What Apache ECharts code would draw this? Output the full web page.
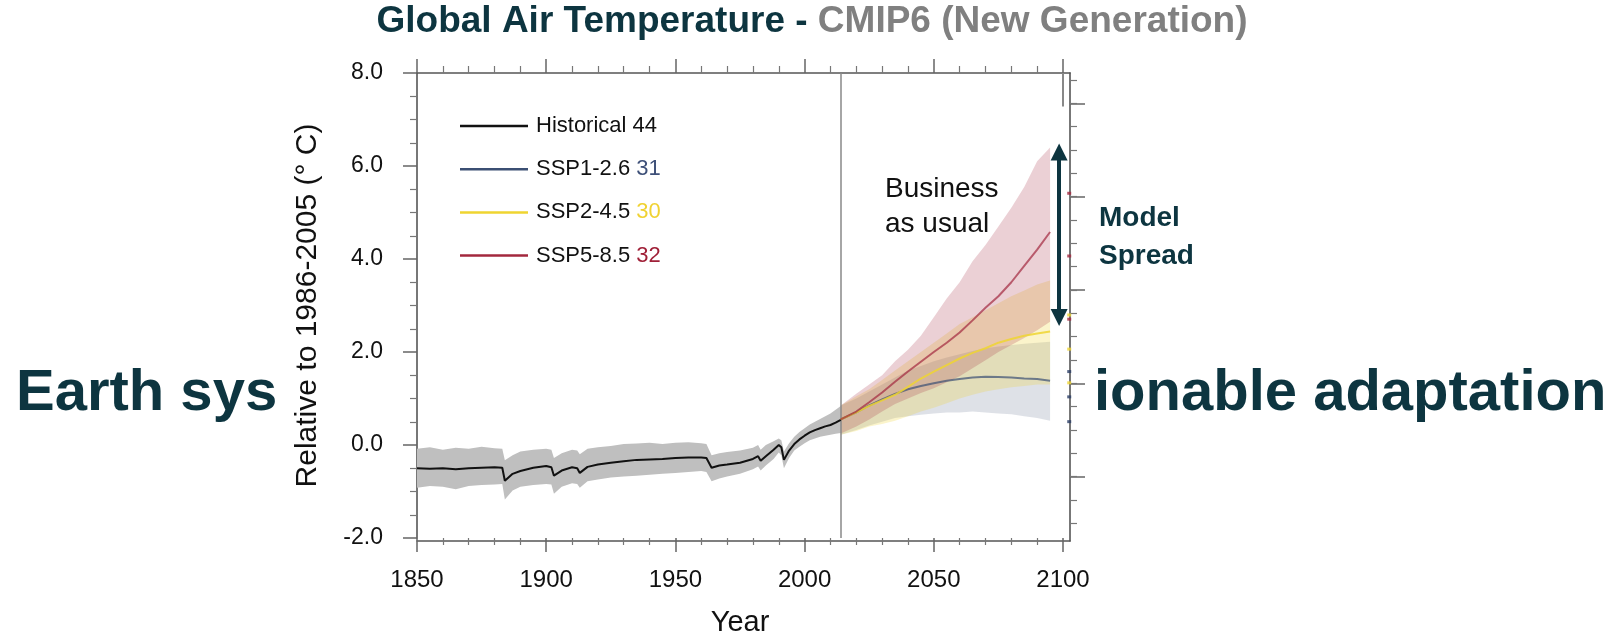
<!DOCTYPE html>
<html><head><meta charset="utf-8">
<script src="https://cdn.jsdelivr.net/npm/echarts@6/dist/echarts.min.js"></script>
<style>html,body{margin:0;padding:0;background:#fff}#c{width:1618px;height:642px}</style>
</head><body><div id="c"></div>
<script>
const FONT = "'Liberation Sans', Arial, Helvetica, sans-serif";
const TEAL = '#0d3540';

// ---------- data ----------
const histYears = [1850,1855,1860,1865,1870,1875,1880,1883,1884,1887,1890,1895,1900,1902,1903,1906,1910,1912,1913,1916,1920,1925,1930,1935,1940,1945,1950,1955,1960,1962,1964,1967,1970,1975,1980,1982,1983,1985,1988,1990,1991,1992,1994,1996,1998,2000,2002,2004,2006,2008,2010,2012,2014];
const histMean  = [-0.50,-0.51,-0.50,-0.52,-0.50,-0.49,-0.48,-0.49,-0.77,-0.62,-0.56,-0.49,-0.45,-0.48,-0.66,-0.55,-0.48,-0.50,-0.60,-0.47,-0.42,-0.38,-0.35,-0.32,-0.31,-0.30,-0.28,-0.27,-0.27,-0.28,-0.49,-0.44,-0.42,-0.38,-0.30,-0.24,-0.34,-0.24,-0.10,0.00,-0.05,-0.32,-0.12,0.02,0.12,0.20,0.27,0.32,0.36,0.40,0.43,0.48,0.54];
const histUpper = [-0.08,-0.05,-0.10,-0.06,-0.08,-0.04,-0.07,-0.08,-0.33,-0.22,-0.14,-0.10,-0.08,-0.10,-0.28,-0.18,-0.10,-0.12,-0.20,-0.08,-0.05,-0.02,0.02,0.03,0.05,0.02,0.05,0.06,0.04,0.02,-0.22,-0.18,-0.15,-0.12,-0.06,0.00,-0.10,0.00,0.08,0.14,0.10,-0.14,0.04,0.18,0.28,0.36,0.44,0.50,0.56,0.62,0.68,0.76,0.84];
const histLower = [-0.92,-0.88,-0.90,-0.95,-0.88,-0.86,-0.85,-0.84,-1.17,-0.98,-0.90,-0.86,-0.84,-0.85,-1.05,-0.90,-0.82,-0.84,-0.92,-0.78,-0.74,-0.70,-0.68,-0.66,-0.64,-0.62,-0.60,-0.58,-0.56,-0.58,-0.78,-0.72,-0.68,-0.62,-0.52,-0.46,-0.55,-0.44,-0.30,-0.16,-0.22,-0.50,-0.28,-0.12,-0.04,0.04,0.10,0.14,0.18,0.20,0.22,0.24,0.26];

const projYears   = [2014,2020,2025,2030,2035,2040,2045,2050,2055,2060,2065,2070,2075,2080,2085,2090,2095];
const ssp126Mean  = [0.55,0.70,0.85,0.98,1.10,1.20,1.27,1.33,1.38,1.42,1.45,1.47,1.46,1.45,1.43,1.42,1.38];
const ssp126Upper = [0.85,1.00,1.15,1.30,1.45,1.60,1.70,1.80,1.88,1.95,2.02,2.08,2.12,2.15,2.18,2.20,2.22];
const ssp126Lower = [0.22,0.32,0.42,0.50,0.58,0.62,0.65,0.68,0.70,0.70,0.72,0.70,0.68,0.66,0.62,0.58,0.52];
const ssp245Mean  = [0.55,0.70,0.84,0.96,1.08,1.25,1.43,1.58,1.72,1.86,1.98,2.08,2.20,2.28,2.35,2.40,2.44];
const ssp245Upper = [0.85,1.05,1.20,1.40,1.60,1.80,2.00,2.20,2.40,2.60,2.75,2.90,3.05,3.20,3.32,3.45,3.54];
const ssp245Lower = [0.22,0.30,0.40,0.45,0.52,0.62,0.72,0.80,0.90,1.00,1.08,1.15,1.20,1.24,1.27,1.30,1.30];
const ssp585Mean  = [0.55,0.72,0.92,1.13,1.36,1.58,1.79,2.00,2.20,2.42,2.68,2.95,3.20,3.50,3.85,4.20,4.58];
const ssp585Upper = [0.85,1.10,1.30,1.50,1.80,2.05,2.35,2.75,3.15,3.50,3.95,4.30,4.70,5.10,5.55,6.10,6.40];
const ssp585Lower = [0.25,0.40,0.55,0.72,0.88,1.00,1.12,1.22,1.35,1.48,1.65,1.82,2.00,2.15,2.30,2.47,2.65];

const legendNames  = ['Historical','SSP1-2.6','SSP2-4.5','SSP5-8.5'];
const legendCounts = [44, 31, 30, 32];

const xTickLabels = ['1850','1900','1950','2000','2050','2100'];
const yTickLabels = ['-2.0','0.0','2.0','4.0','6.0','8.0'];

const projStartYear = 2014;
const spreadYear = 2098.5, spreadTop = 6.3, spreadBottom = 2.74;
const edgeMarkYear = 2102.5;
const edgeRed    = [5.43, 4.09, 2.74];
const edgeYellow = [2.83, 2.10, 1.38];
const edgeBlue   = [1.62, 1.08, 0.55];

// ---------- helpers ----------
const zip = (xs, ys) => xs.map((x, i) => [x, ys[i]]);

const COLORS = { hist: '#111111', s126: '#3b4f73', s245: '#efd531', s585: '#a3283e' };

function band(name, years, lo, hi, color, opacity) {
  const rows = years.map((y, i) => [y, lo[i], hi[i]]);
  return {
    name: name + '-band', type: 'custom', xAxisIndex: 0, yAxisIndex: 0, silent: true, clip: true, z: 1,
    data: rows, encode: { x: 0, y: [1, 2] },
    renderItem: (params, api) => {
      if (params.dataIndex !== 0) return null;
      const pts = [];
      for (let i = 0; i < rows.length; i++) pts.push(api.coord([rows[i][0], rows[i][2]]));
      for (let i = rows.length - 1; i >= 0; i--) pts.push(api.coord([rows[i][0], rows[i][1]]));
      return { type: 'polygon', shape: { points: pts }, style: { fill: color, opacity: opacity } };
    }
  };
}

const tickStyleMajor = { show: true, inside: false, length: 14, lineStyle: { color: '#666', width: 1.5 } };
const tickStyleMinor = { show: true, length: 7, lineStyle: { color: '#777', width: 1.2 } };

const chart = echarts.init(document.getElementById('c'), null, { renderer: 'canvas' });

const option = {
  animation: false,
  backgroundColor: '#ffffff',
  textStyle: { fontFamily: FONT },
  grid: [
    { left: 417, top: 73, width: 646, height: 468 },
    { left: 417, top: 73, width: 653, height: 468 },
    { left: 417, top: 103.3, width: 653, height: 373.4 },
    { left: 417, top: 80, width: 653, height: 443.3 }
  ],
  xAxis: [
    { gridIndex: 0, type: 'value', min: 1850, max: 2100, interval: 50, position: 'bottom',
      axisLine: { show: false, onZero: false },
      axisTick: tickStyleMajor, minorTick: Object.assign({ splitNumber: 5 }, tickStyleMinor),
      splitLine: { show: false }, minorSplitLine: { show: false },
      axisLabel: { margin: 30, fontSize: 24, color: '#111', fontFamily: FONT,
        formatter: v => xTickLabels[Math.round((v - 1850) / 50)] || '' },
      name: 'Year', nameLocation: 'middle', nameGap: 70,
      nameTextStyle: { fontSize: 29, color: '#111', fontFamily: FONT } },
    { gridIndex: 0, type: 'value', min: 1850, max: 2100, interval: 50, position: 'top',
      axisLine: { show: false, onZero: false },
      axisTick: tickStyleMajor, minorTick: Object.assign({ splitNumber: 5 }, tickStyleMinor),
      splitLine: { show: false }, axisLabel: { show: false } },
    { gridIndex: 1, type: 'value', min: 1850, max: 2102.8, position: 'bottom',
      axisLine: { show: true, onZero: false, lineStyle: { color: '#555', width: 1.6 } },
      axisTick: { show: false }, axisLabel: { show: false }, splitLine: { show: false } },
    { gridIndex: 1, type: 'value', min: 1850, max: 2102.8, position: 'top',
      axisLine: { show: true, onZero: false, lineStyle: { color: '#555', width: 1.6 } },
      axisTick: { show: false }, axisLabel: { show: false }, splitLine: { show: false } },
    { gridIndex: 2, type: 'value', show: false, min: 0, max: 1 },
    { gridIndex: 3, type: 'value', show: false, min: 0, max: 1 }
  ],
  yAxis: [
    { gridIndex: 0, type: 'value', min: -2, max: 8, interval: 2, position: 'left',
      axisLine: { show: true, onZero: false, lineStyle: { color: '#555', width: 1.6 } },
      axisTick: tickStyleMajor, minorTick: Object.assign({ splitNumber: 4 }, tickStyleMinor),
      splitLine: { show: false }, minorSplitLine: { show: false },
      axisLabel: { margin: 34, fontSize: 23, color: '#111', fontFamily: FONT,
        formatter: v => yTickLabels[Math.round((v + 2) / 2)] || '' },
      name: 'Relative to 1986-2005 (° C)', nameLocation: 'middle', nameRotate: 90, nameGap: 94,
      nameTextStyle: { fontSize: 30, color: '#111', fontFamily: FONT } },
    { gridIndex: 1, type: 'value', min: -2, max: 8, position: 'right',
      axisLine: { show: true, onZero: false, lineStyle: { color: '#555', width: 1.6 } },
      axisTick: { show: false }, axisLabel: { show: false }, splitLine: { show: false } },
    { gridIndex: 2, type: 'value', min: 0, max: 8, interval: 2, position: 'right',
      axisLine: { show: false, onZero: false },
      axisTick: { show: true, inside: false, length: 15, lineStyle: { color: '#666', width: 1.5 } },
      axisLabel: { show: false }, splitLine: { show: false } },
    { gridIndex: 3, type: 'value', min: 0, max: 19, interval: 1, position: 'right',
      axisLine: { show: false, onZero: false },
      axisTick: { show: true, inside: false, length: 7, lineStyle: { color: '#777', width: 1.2 } },
      axisLabel: { show: false }, splitLine: { show: false } }
  ],
  legend: {
    data: legendNames, orient: 'vertical', left: 455, top: 110,
    icon: 'rect', itemWidth: 68, itemHeight: 2.5, itemGap: 21.2, selectedMode: false,
    formatter: name => {
      const i = legendNames.indexOf(name);
      return name + ' {k' + i + '|' + legendCounts[i] + '}';
    },
    textStyle: {
      fontSize: 22, lineHeight: 22, color: '#111', fontFamily: FONT, padding: [0, 0, 0, 3],
      rich: {
        k0: { color: '#111', fontSize: 22, fontFamily: FONT },
        k1: { color: '#3e5078', fontSize: 22, fontFamily: FONT },
        k2: { color: '#f0d232', fontSize: 22, fontFamily: FONT },
        k3: { color: '#a02038', fontSize: 22, fontFamily: FONT }
      }
    }
  },
  series: [
    band('hist', histYears, histLower, histUpper, '#bfbfbf', 1),
    band('s126', projYears, ssp126Lower, ssp126Upper, COLORS.s126, 0.17),
    band('s245', projYears, ssp245Lower, ssp245Upper, COLORS.s245, 0.25),
    band('s585', projYears, ssp585Lower, ssp585Upper, COLORS.s585, 0.22),
    { name: 'Historical', type: 'line', xAxisIndex: 0, yAxisIndex: 0, data: zip(histYears, histMean),
      color: COLORS.hist, symbol: 'none', lineStyle: { width: 2, color: COLORS.hist }, z: 5,
      markLine: { silent: true, symbol: ['none', 'none'], label: { show: false },
        lineStyle: { color: '#888', width: 1.5, type: 'solid' }, data: [{ xAxis: projStartYear }] } },
    { name: 'SSP1-2.6', type: 'line', xAxisIndex: 0, yAxisIndex: 0, data: zip(projYears, ssp126Mean),
      color: COLORS.s126, symbol: 'none', lineStyle: { width: 2, color: COLORS.s126, opacity: 0.7 }, z: 5,
      markLine: { silent: true, symbol: ['none', 'none'], label: { show: false },
        lineStyle: { color: '#888', width: 2, type: 'solid' },
        data: [[{ coord: [2100, 8] }, { coord: [2100, 7.28] }]] } },
    { name: 'SSP2-4.5', type: 'line', xAxisIndex: 0, yAxisIndex: 0, data: zip(projYears, ssp245Mean),
      color: COLORS.s245, symbol: 'none', lineStyle: { width: 2, color: COLORS.s245, opacity: 0.85 }, z: 5 },
    { name: 'SSP5-8.5', type: 'line', xAxisIndex: 0, yAxisIndex: 0, data: zip(projYears, ssp585Mean),
      color: COLORS.s585, symbol: 'none', lineStyle: { width: 2, color: COLORS.s585, opacity: 0.7 }, z: 5,
      markLine: { silent: true, symbol: ['triangle', 'triangle'], symbolSize: 17, label: { show: false },
        lineStyle: { color: TEAL, width: 4, type: 'solid', opacity: 1 }, itemStyle: { color: TEAL },
        data: [[{ coord: [spreadYear, spreadTop] }, { coord: [spreadYear, spreadBottom] }]] } },
    { name: 'edge-red', type: 'scatter', xAxisIndex: 2, yAxisIndex: 1, clip: false, silent: true,
      symbol: 'rect', symbolSize: [4, 3], itemStyle: { color: '#a3283e' }, data: edgeRed.map(v => [edgeMarkYear, v]), z: 6 },
    { name: 'edge-yellow', type: 'scatter', xAxisIndex: 2, yAxisIndex: 1, clip: false, silent: true,
      symbol: 'rect', symbolSize: [4, 3], itemStyle: { color: '#efd531' }, data: edgeYellow.map(v => [edgeMarkYear, v]), z: 6 },
    { name: 'edge-blue', type: 'scatter', xAxisIndex: 2, yAxisIndex: 1, clip: false, silent: true,
      symbol: 'rect', symbolSize: [4, 3], itemStyle: { color: '#2c3e66' }, data: edgeBlue.map(v => [edgeMarkYear, v]), z: 6 }
  ],
  graphic: [
    { type: 'text', x: 812, y: 3, z: 10,
      style: { text: '{a|Global Air Temperature - }{b|CMIP6 (New Generation)}', align: 'center', verticalAlign: 'top',
        rich: { a: { fill: TEAL, fontSize: 37, fontWeight: 'bold', fontFamily: FONT },
                b: { fill: '#808080', fontSize: 37, fontWeight: 'bold', fontFamily: FONT } } } },
    { type: 'text', x: 16, y: 394, z: 10,
      style: { text: 'Earth sys', fill: TEAL, fontSize: 58, fontWeight: 'bold', fontFamily: FONT, verticalAlign: 'middle' } },
    { type: 'text', x: 1094, y: 394, z: 10,
      style: { text: 'ionable adaptation', fill: TEAL, fontSize: 58, fontWeight: 'bold', fontFamily: FONT, verticalAlign: 'middle' } },
    { type: 'text', x: 885, y: 172, z: 10,
      style: { text: 'Business\nas usual', fill: '#111', fontSize: 28, lineHeight: 35, fontFamily: FONT, verticalAlign: 'top' } },
    { type: 'text', x: 1099, y: 200, z: 10,
      style: { text: 'Model\nSpread', fill: TEAL, fontSize: 28, lineHeight: 37.5, fontWeight: 'bold', fontFamily: FONT, verticalAlign: 'top' } }
  ]
};
chart.setOption(option);
</script></body></html>
